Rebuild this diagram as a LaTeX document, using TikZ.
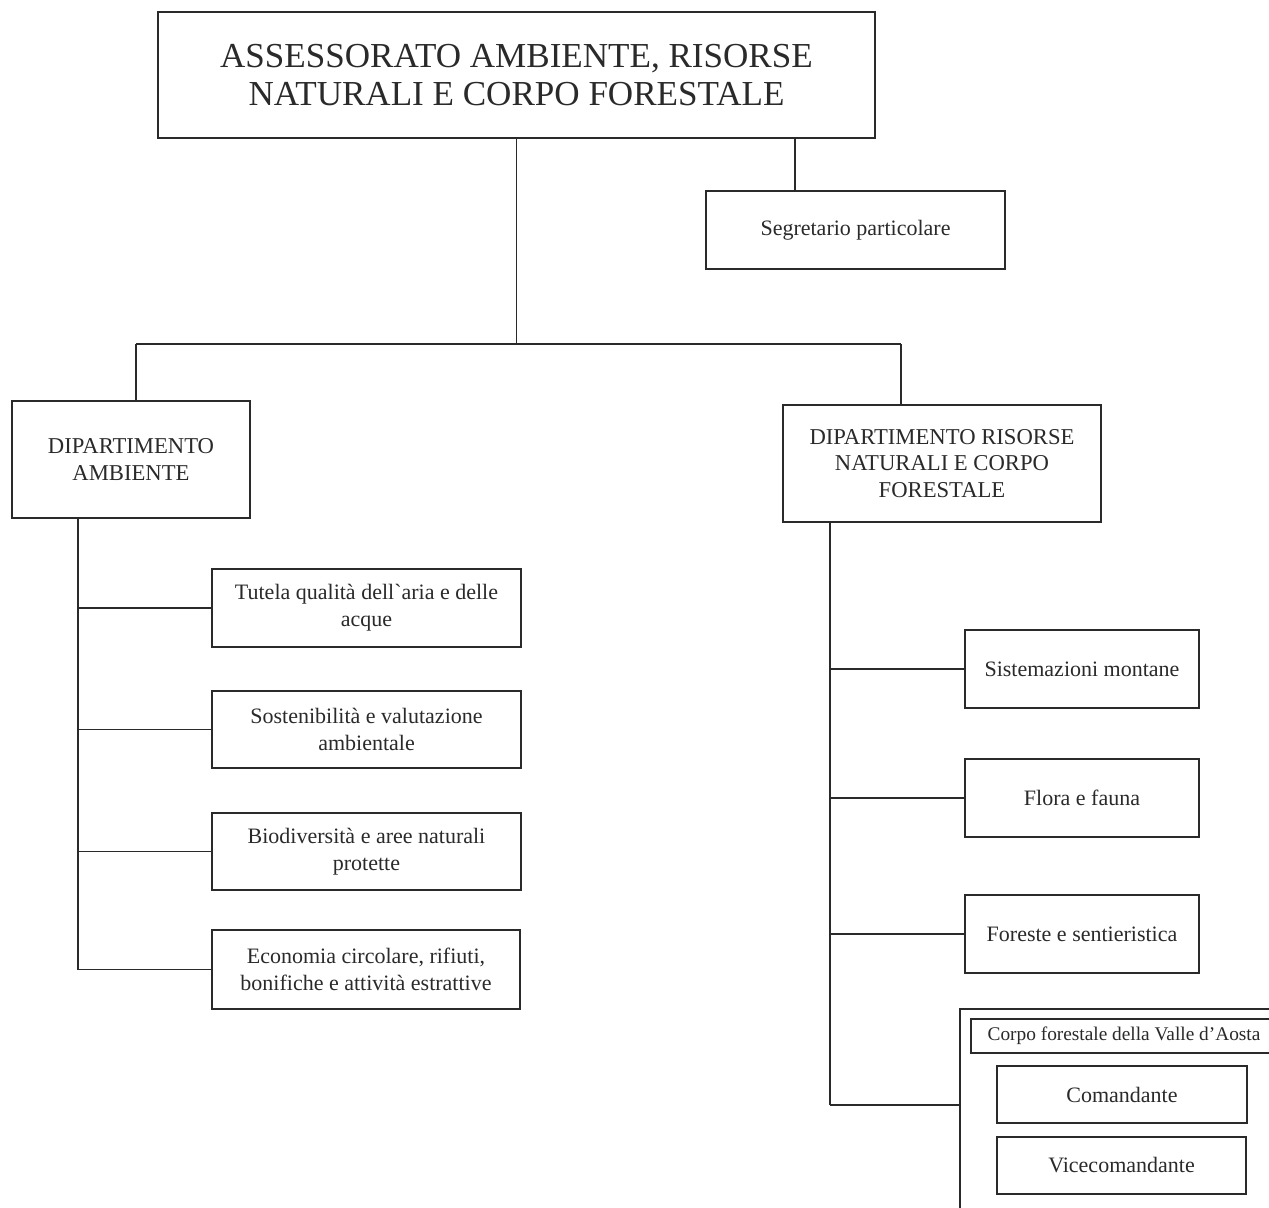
\documentclass[tikz,border=0pt]{standalone}
\usepackage{fontspec}
\setmainfont{Liberation Serif}
\definecolor{ink}{HTML}{2A2A2A}
\newcommand\orgbox[7]{\node[obox, minimum width={(#4-#2)*0.75pt}, minimum height={(#5-#3)*0.75pt}, font=#6] (#1) at ({(#2+#4)/2},{(#3+#5)/2}) {#7};}
\begin{document}
\begin{tikzpicture}[x=0.75pt,y=-0.75pt,
  obox/.style={draw=ink, line width=0.9pt, inner sep=0pt, align=center, text=ink},
  conn/.style={draw=ink, line width=0.9pt}]
\useasboundingbox (0,0) rectangle (1269,1207);
\clip (0,0) rectangle (1269,1207);
\fill[white] (0,0) rectangle (1269,1207);
% top
\orgbox{title}{158}{12}{875}{138}{\fontsize{26.3}{29}\selectfont}{ASSESSORATO AMBIENTE, RISORSE\\NATURALI E CORPO FORESTALE}
\orgbox{seg}{706}{191}{1005}{269}{\fontsize{16.5}{20}\selectfont}{Segretario particolare}
% departments
\orgbox{dipA}{12}{401}{250}{518}{\fontsize{17}{20}\selectfont}{DIPARTIMENTO\\AMBIENTE}
\orgbox{dipR}{783}{405}{1101}{522}{\fontsize{17}{20}\selectfont}{DIPARTIMENTO RISORSE\\NATURALI E CORPO\\FORESTALE}
% left column
\orgbox{tut}{212}{569}{521}{647}{\fontsize{16.5}{20}\selectfont}{Tutela qualità dell\textasciigrave aria e delle\\acque}
\orgbox{sos}{212}{691}{521}{768}{\fontsize{16.5}{20}\selectfont}{Sostenibilità e valutazione\\ambientale}
\orgbox{bio}{212}{813}{521}{890}{\fontsize{16.5}{20}\selectfont}{Biodiversità e aree naturali\\protette}
\orgbox{eco}{212}{930}{520}{1009}{\fontsize{16.5}{20}\selectfont}{Economia circolare, rifiuti,\\bonifiche e attività estrattive}
% right column
\orgbox{sis}{965}{630}{1199}{708}{\fontsize{16.5}{20}\selectfont}{Sistemazioni montane}
\orgbox{flo}{965}{759}{1199}{837}{\fontsize{16.5}{20}\selectfont}{Flora e fauna}
\orgbox{for}{965}{895}{1199}{973}{\fontsize{16.5}{20}\selectfont}{Foreste e sentieristica}
% corpo forestale group
\orgbox{corpo}{960}{1009}{1300}{1240}{\fontsize{10}{12}\selectfont}{}
\orgbox{chead}{971}{1019}{1277}{1053}{\fontsize{14.5}{17}\selectfont}{Corpo forestale della Valle d’Aosta}
\orgbox{com}{997}{1066}{1247}{1123}{\fontsize{16.5}{20}\selectfont}{Comandante}
\orgbox{vic}{997}{1137}{1246}{1194}{\fontsize{16.5}{20}\selectfont}{Vicecomandante}
% connectors top
\coordinate (cA) at (136,344);
\coordinate (cR) at (901,344);
\coordinate (cS) at (795,0);
\draw[conn] (title.south) -- (title.south |- cA);
\draw[conn] (cA) -- (cR);
\draw[conn] (cA) -- (cA |- dipA.north);
\draw[conn] (cR) -- (cR |- dipR.north);
\draw[conn] (title.south -| cS) -- (seg.north -| cS);
% left spine
\coordinate (lA) at (78,0);
\draw[conn] (dipA.south -| lA) -- (lA |- eco.west);
\foreach \b in {tut,sos,bio,eco} \draw[conn] (lA |- \b.west) -- (\b.west);
% right spine
\coordinate (lR) at (830,0);
\coordinate (cb) at (960,1105);
\draw[conn] (dipR.south -| lR) -- (lR |- cb);
\foreach \b in {sis,flo,for} \draw[conn] (lR |- \b.west) -- (\b.west);
\draw[conn] (lR |- cb) -- (cb);
\end{tikzpicture}
\end{document}
